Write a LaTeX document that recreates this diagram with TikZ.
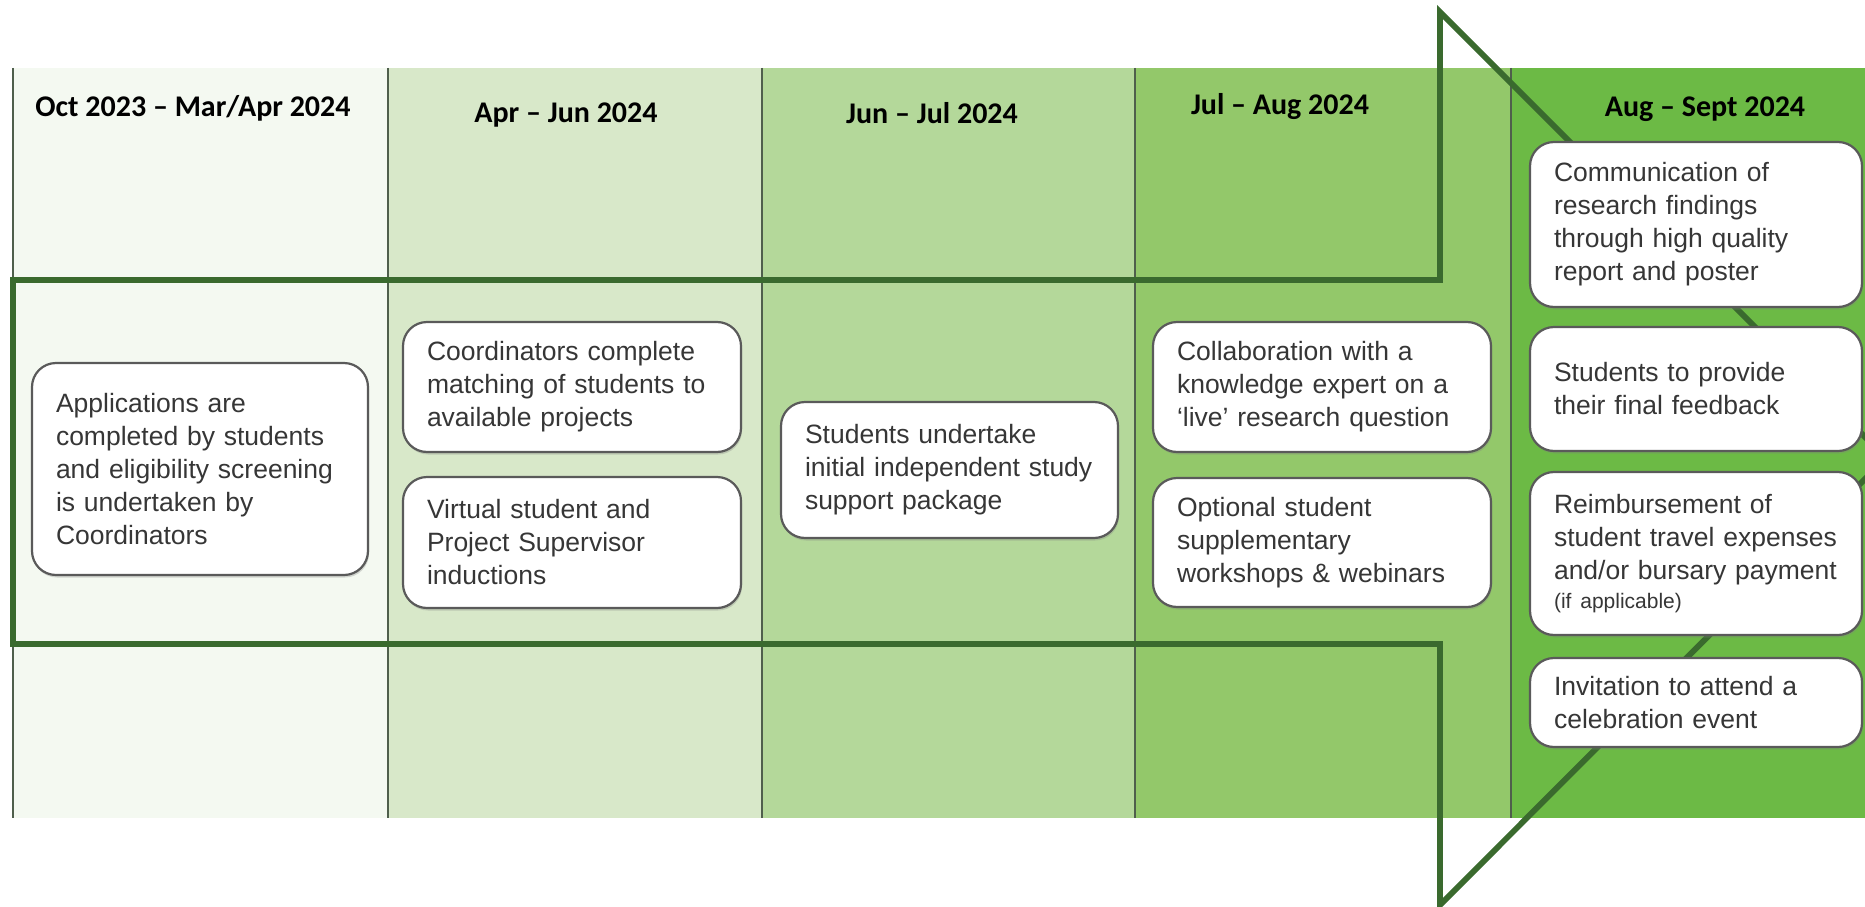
\documentclass[tikz,border=0pt]{standalone}
\usepackage{fontspec}
\setmainfont{Liberation Sans}
\newfontfamily\hdfont{Carlito}
\usetikzlibrary{shadows}
\definecolor{cA}{HTML}{F4F9F1}
\definecolor{cB}{HTML}{D8E8C9}
\definecolor{cC}{HTML}{B4D89A}
\definecolor{cD}{HTML}{93C86A}
\definecolor{cE}{HTML}{6CBA45}
\definecolor{arrowgreen}{HTML}{3A6A2E}
\definecolor{sepgray}{HTML}{4F5F4C}
\definecolor{boxborder}{HTML}{5A5A5A}
\definecolor{boxtext}{HTML}{363636}
\begin{document}
\begin{tikzpicture}[x=1pt,y=-1pt,
  hdr/.style={font=\hdfont\bfseries\fontsize{30}{36}\selectfont, text=black, inner sep=0pt},
  sep/.style={draw=sepgray, line width=2pt},
  arrowline/.style={draw=arrowgreen, line width=5.8pt, line join=miter},
  stepbox/.style={draw=boxborder, line width=2.2pt, fill=white, rounded corners=24pt,
    align=left, inner xsep=24pt, inner ysep=0pt, text=boxtext,
    font=\fontsize{26.5}{33}\selectfont,
    drop shadow={opacity=0.3, shadow xshift=1pt, shadow yshift=-2.5pt}}]
\useasboundingbox (0,0) rectangle (1865,907);
% column backgrounds
\fill[cA] (13,68) rectangle (388,818);
\fill[cB] (388,68) rectangle (762,818);
\fill[cC] (762,68) rectangle (1135,818);
\fill[cD] (1135,68) rectangle (1511,818);
\fill[cE] (1511,68) rectangle (1865,818);
% separators
\foreach \xx in {13,388,762,1135,1511} \draw[sep] (\xx,68) -- (\xx,818);
% headers
\node[hdr] (h1) at (193,108) {Oct 2023 – Mar/Apr 2024};
\node[hdr] (h2) at (566,115) {Apr – Jun 2024};
\node[hdr] (h3) at (932,113) {Jun – Jul 2024};
\node[hdr] (h4) at (1280,107) {Jul – Aug 2024};
\node[hdr] (h5) at (1705,109) {Aug – Sept 2024};
% big arrow outline
\begin{scope}
\clip (0,0) rectangle (1865,907);
\draw[arrowline] (13,280) -- (1440,280) -- (1440,12) -- (1886,458) -- (1440,905) -- (1440,644) -- (13,644) -- cycle;
\end{scope}
% boxes
\node[stepbox, minimum width=336pt, minimum height=212pt, text width=288pt] (b1) at (200,469)
  {Applications are\\completed by students\\and eligibility screening\\is undertaken by\\Coordinators};
\node[stepbox, minimum width=338pt, minimum height=130pt, text width=290pt] (b2) at (572,387)
  {Coordinators complete\\matching of students to\\available projects};
\node[stepbox, minimum width=338pt, minimum height=131pt, text width=290pt] (b3) at (572,542.5)
  {Virtual student and\\Project Supervisor\\inductions};
\node[stepbox, minimum width=337pt, minimum height=136pt, text width=289pt] (b4) at (949.5,470)
  {Students undertake\\initial independent study\\support package};
\node[stepbox, minimum width=338pt, minimum height=130pt, text width=290pt] (b5) at (1322,387)
  {Collaboration with a\\knowledge expert on a\\‘live’ research question};
\node[stepbox, minimum width=338pt, minimum height=129pt, text width=290pt] (b6) at (1322,542.5)
  {Optional student\\supplementary\\workshops \& webinars};
\node[stepbox, minimum width=332pt, minimum height=165pt, text width=284pt] (b7) at (1696,224.5)
  {Communication of\\research findings\\through high quality\\report and poster};
\node[stepbox, minimum width=332pt, minimum height=124pt, text width=284pt] (b8) at (1696,389)
  {Students to provide\\their final feedback};
\node[stepbox, minimum width=332pt, minimum height=163pt, text width=284pt] (b9) at (1696,553.5)
  {Reimbursement of\\student travel expenses\\and/or bursary payment\\[-4pt]{\fontsize{21}{24}\selectfont (if applicable)}};
\node[stepbox, minimum width=332pt, minimum height=89pt, text width=284pt] (b10) at (1696,702.5)
  {Invitation to attend a\\celebration event};
\end{tikzpicture}
\end{document}
